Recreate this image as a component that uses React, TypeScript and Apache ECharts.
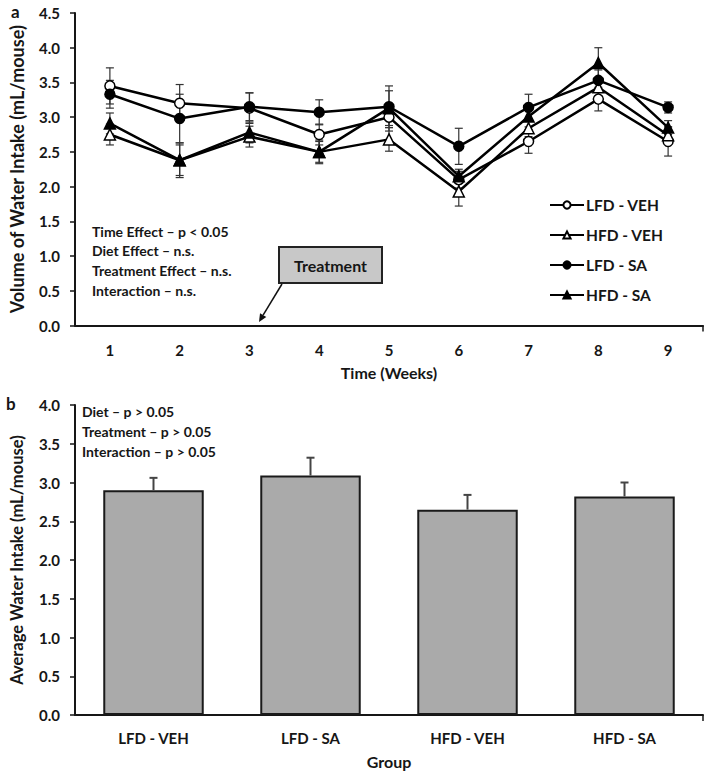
import React, { useEffect, useRef } from "react";
import * as echarts from "echarts";

// ---- Panel a: weekly water intake (mL/mouse) ----
const weeks = ["1", "2", "3", "4", "5", "6", "7", "8", "9"];
const lfdVeh = [3.45, 3.2, 3.13, 2.75, 3.0, 2.1, 2.65, 3.26, 2.65];
const hfdVeh = [2.75, 2.38, 2.72, 2.5, 2.68, 1.93, 2.84, 3.43, 2.74];
const lfdSa = [3.33, 2.98, 3.15, 3.07, 3.15, 2.58, 3.14, 3.53, 3.14];
const hfdSa = [2.91, 2.38, 2.78, 2.5, 3.13, 2.15, 3.01, 3.78, 2.85];
const lfdVehErr = [0.26, 0.27, 0.22, 0.15, 0.2, 0.12, 0.17, 0.17, 0.21];
const hfdVehErr = [0.15, 0.22, 0.15, 0.15, 0.17, 0.21, 0.12, 0.12, 0.12];
const lfdSaErr = [0.2, 0.35, 0.2, 0.18, 0.3, 0.26, 0.19, 0.15, 0.08];
const hfdSaErr = [0.15, 0.25, 0.15, 0.17, 0.25, 0.1, 0.15, 0.22, 0.1];
const seriesNames = ["LFD - VEH", "HFD - VEH", "LFD - SA", "HFD - SA"];
const statsA = [
  "Time Effect \u2013 p < 0.05",
  "Diet Effect \u2013 n.s.",
  "Treatment Effect \u2013 n.s.",
  "Interaction \u2013 n.s.",
];

// ---- Panel b: average intake per group ----
const groups = ["LFD - VEH", "LFD - SA", "HFD - VEH", "HFD - SA"];
const avgIntake = [2.9, 3.09, 2.65, 2.82];
const avgErr = [0.16, 0.23, 0.19, 0.18];
const statsB = [
  "Diet \u2013 p > 0.05",
  "Treatment \u2013 p > 0.05",
  "Interaction \u2013 p > 0.05",
];

const FONT = "Lato";
const INK = "#161616";

function errSeries(name: string, vals: number[], errs: number[], up: boolean, down: boolean, xi: number, color: string, lw: number, cap: number) {
  return {
    type: "custom",
    name,
    xAxisIndex: xi,
    yAxisIndex: xi,
    z: 1,
    silent: true,
    encode: { x: 0, y: 1 },
    data: vals.map((v, i) => [i, v, errs[i]]),
    renderItem: (params: any, api: any) => {
      const x = api.value(0);
      const y = api.value(1);
      const e = api.value(2);
      const top = api.coord([x, up ? y + e : y]);
      const bot = api.coord([x, down ? y - e : y]);
      const children: any[] = [
        { type: "line", shape: { x1: top[0], y1: top[1], x2: bot[0], y2: bot[1] }, style: { stroke: color, lineWidth: lw } },
      ];
      if (up) children.push({ type: "line", shape: { x1: top[0] - cap, y1: top[1], x2: top[0] + cap, y2: top[1] }, style: { stroke: color, lineWidth: lw } });
      if (down) children.push({ type: "line", shape: { x1: bot[0] - cap, y1: bot[1], x2: bot[0] + cap, y2: bot[1] }, style: { stroke: color, lineWidth: lw } });
      return { type: "group", children };
    },
  };
}

function lineSeries(name: string, data: number[], symbol: string, filled: boolean) {
  return {
    type: "line",
    name,
    xAxisIndex: 0,
    yAxisIndex: 0,
    data,
    z: 3,
    symbol,
    symbolSize: symbol === "triangle" ? 11 : 10,
    color: "#000",
    lineStyle: { color: "#000", width: 2.5 },
    itemStyle: { color: filled ? "#000" : "#fff", borderColor: "#000", borderWidth: 1.5 },
  };
}

const axisLabelStyle = { fontFamily: FONT, fontWeight: "bold" as const, fontSize: 15, color: INK };
const nameStyleA = { fontFamily: FONT, fontWeight: "bold" as const, fontSize: 18, color: INK };
const nameStyleB = { fontFamily: FONT, fontWeight: "bold" as const, fontSize: 16.5, color: INK };

export default function App() {
  const ref = useRef<HTMLDivElement>(null);
  useEffect(() => {
    if (!ref.current) return;
    const chart = echarts.init(ref.current, null, { renderer: "svg" });
    const statsTextA = statsA.map((t, i) => ({
      type: "text",
      left: 92,
      top: 224 + i * 19.7,
      style: { text: t, fontFamily: FONT, fontWeight: "bold", fontSize: 14, fill: INK },
    }));
    const statsTextB = statsB.map((t, i) => ({
      type: "text",
      left: 82,
      top: 404 + i * 20,
      style: { text: t, fontFamily: FONT, fontWeight: "bold", fontSize: 14, fill: INK },
    }));
    chart.setOption({
      animation: false,
      backgroundColor: "#fff",
      grid: [
        { left: 68, top: 13, width: 635, height: 312.5 },
        { left: 68, top: 405, width: 635, height: 310 },
      ],
      legend: {
        orient: "vertical",
        left: 544,
        top: 192,
        itemWidth: 34,
        itemHeight: 9,
        itemGap: 14,
        data: seriesNames,
        textStyle: { fontFamily: FONT, fontWeight: "bold", fontSize: 15.5, color: INK, padding: [0, 0, 0, -3] },
      },
      xAxis: [
        {
          type: "category",
          gridIndex: 0,
          data: weeks,
          boundaryGap: true,
          name: "Time (Weeks)",
          nameLocation: "middle",
          nameGap: 39,
          nameTextStyle: { ...nameStyleB, fontSize: 16 },
          axisLine: { lineStyle: { color: INK, width: 2 } },
          axisTick: { alignWithLabel: true, length: 6, lineStyle: { color: INK, width: 1.5 } },
          axisLabel: { ...axisLabelStyle, margin: 17 },
        },
        {
          type: "category",
          gridIndex: 1,
          data: groups,
          boundaryGap: true,
          name: "Group",
          nameLocation: "middle",
          nameGap: 38,
          nameTextStyle: { ...nameStyleB, fontSize: 16 },
          axisLine: { lineStyle: { color: INK, width: 2 } },
          axisTick: { alignWithLabel: true, length: 6, lineStyle: { color: INK, width: 1.5 } },
          axisLabel: { ...axisLabelStyle, margin: 15 },
        },
      ],
      yAxis: [
        {
          type: "value",
          gridIndex: 0,
          min: 0,
          max: 4.5,
          interval: 0.5,
          name: "Volume of Water Intake (mL/mouse)",
          nameLocation: "middle",
          nameRotate: 90,
          nameGap: 49,
          nameTextStyle: nameStyleA,
          axisLine: { show: true, lineStyle: { color: INK, width: 2 } },
          axisTick: { show: true, length: 5, lineStyle: { color: INK, width: 1.5 } },
          splitLine: { show: false },
          axisLabel: { ...axisLabelStyle, margin: 15, formatter: (v: number) => v.toFixed(1) },
        },
        {
          type: "value",
          gridIndex: 1,
          min: 0,
          max: 4,
          interval: 0.5,
          name: "Average Water Intake (mL/mouse)",
          nameLocation: "middle",
          nameRotate: 90,
          nameGap: 50,
          nameTextStyle: nameStyleB,
          axisLine: { show: true, lineStyle: { color: INK, width: 2 } },
          axisTick: { show: true, length: 5, lineStyle: { color: INK, width: 1.5 } },
          splitLine: { show: false },
          axisLabel: { ...axisLabelStyle, margin: 15, formatter: (v: number) => v.toFixed(1) },
        },
      ],
      series: [
        errSeries("e1", lfdVeh, lfdVehErr, true, true, 0, "#333", 1.2, 4),
        errSeries("e2", hfdVeh, hfdVehErr, true, true, 0, "#333", 1.2, 4),
        errSeries("e3", lfdSa, lfdSaErr, true, true, 0, "#333", 1.2, 4),
        errSeries("e4", hfdSa, hfdSaErr, true, true, 0, "#333", 1.2, 4),
        lineSeries(seriesNames[0], lfdVeh, "circle", false),
        lineSeries(seriesNames[1], hfdVeh, "triangle", false),
        lineSeries(seriesNames[2], lfdSa, "circle", true),
        lineSeries(seriesNames[3], hfdSa, "triangle", true),
        {
          type: "bar",
          name: "avg",
          xAxisIndex: 1,
          yAxisIndex: 1,
          data: avgIntake,
          barWidth: "64%",
          z: 2,
          itemStyle: { color: "#aaaaaa", borderColor: "#1a1a1a", borderWidth: 2 },
        },
        { ...errSeries("eb", avgIntake, avgErr, true, false, 1, "#444", 2, 4), z: 3 },
      ],
      graphic: [
        { type: "text", left: 11, top: 3, style: { text: "a", fontFamily: FONT, fontWeight: "bold", fontSize: 17, fill: INK } },
        { type: "text", left: 6, top: 395, style: { text: "b", fontFamily: FONT, fontWeight: "bold", fontSize: 17, fill: INK } },
        ...statsTextA,
        ...statsTextB,
        { type: "line", shape: { x1: 703, y1: 325.5, x2: 703, y2: 331.5 }, style: { stroke: INK, lineWidth: 1.5 } },
        { type: "line", shape: { x1: 703, y1: 715, x2: 703, y2: 721 }, style: { stroke: INK, lineWidth: 1.5 } },
        {
          type: "rect",
          shape: { x: 279, y: 247, width: 103, height: 36 },
          style: { fill: "#c8c8c8", stroke: "#222", lineWidth: 2 },
        },
        {
          type: "text",
          x: 330.5,
          y: 265,
          style: { text: "Treatment", fontFamily: FONT, fontWeight: "bold", fontSize: 16, fill: INK, align: "center", verticalAlign: "middle" },
        },
        {
          type: "line",
          shape: { x1: 282, y1: 284, x2: 263.1, y2: 315.2 },
          style: { stroke: "#111", lineWidth: 1.5 },
        },
        {
          type: "polygon",
          shape: { points: [[259, 322], [266.3, 317.1], [260, 313.3]] },
          style: { fill: "#111" },
        },
      ],
    });
    return () => chart.dispose();
  }, []);
  return <div ref={ref} style={{ position: "fixed", left: 0, top: 0, width: 709, height: 776 }} />;
}
